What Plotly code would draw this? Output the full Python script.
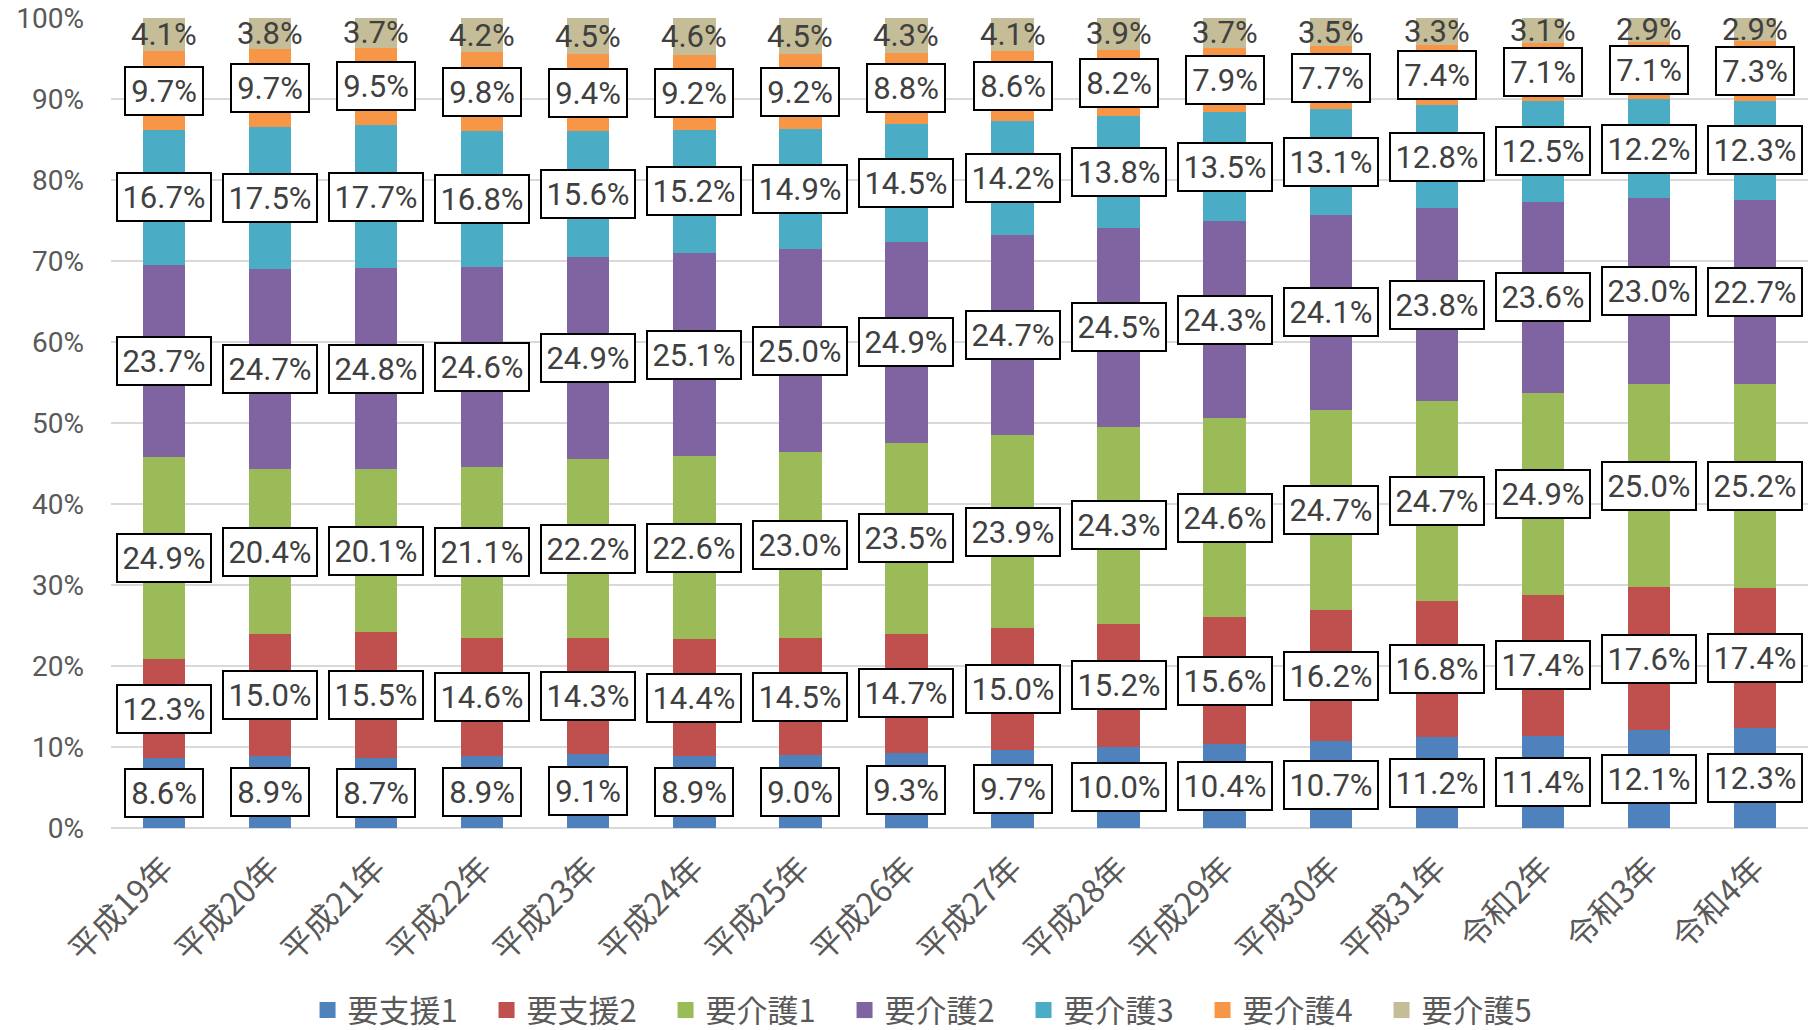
import plotly.graph_objects as go

# Fiscal years (category axis)
years = ["平成19年", "平成20年", "平成21年", "平成22年", "平成23年", "平成24年",
         "平成25年", "平成26年", "平成27年", "平成28年", "平成29年", "平成30年",
         "平成31年", "令和2年", "令和3年", "令和4年"]

# Share of each care level (%)
shien1 = [8.6, 8.9, 8.7, 8.9, 9.1, 8.9, 9.0, 9.3, 9.7, 10.0, 10.4, 10.7, 11.2, 11.4, 12.1, 12.3]
shien2 = [12.3, 15.0, 15.5, 14.6, 14.3, 14.4, 14.5, 14.7, 15.0, 15.2, 15.6, 16.2, 16.8, 17.4, 17.6, 17.4]
kaigo1 = [24.9, 20.4, 20.1, 21.1, 22.2, 22.6, 23.0, 23.5, 23.9, 24.3, 24.6, 24.7, 24.7, 24.9, 25.0, 25.2]
kaigo2 = [23.7, 24.7, 24.8, 24.6, 24.9, 25.1, 25.0, 24.9, 24.7, 24.5, 24.3, 24.1, 23.8, 23.6, 23.0, 22.7]
kaigo3 = [16.7, 17.5, 17.7, 16.8, 15.6, 15.2, 14.9, 14.5, 14.2, 13.8, 13.5, 13.1, 12.8, 12.5, 12.2, 12.3]
kaigo4 = [9.7, 9.7, 9.5, 9.8, 9.4, 9.2, 9.2, 8.8, 8.6, 8.2, 7.9, 7.7, 7.4, 7.1, 7.1, 7.3]
kaigo5 = [4.1, 3.8, 3.7, 4.2, 4.5, 4.6, 4.5, 4.3, 4.1, 3.9, 3.7, 3.5, 3.3, 3.1, 2.9, 2.9]

series_names = ["要支援1", "要支援2", "要介護1", "要介護2", "要介護3", "要介護4", "要介護5"]
series_values = [shien1, shien2, kaigo1, kaigo2, kaigo3, kaigo4, kaigo5]
colors = ["#4F81BD", "#C0504D", "#9BBB59", "#8064A2", "#4BACC6", "#F79646", "#C4BD97"]

y_ticks = [0, 10, 20, 30, 40, 50, 60, 70, 80, 90, 100]

LABEL_FONT = "Roboto, Arial, sans-serif"
CJK_FONT = "Noto Sans CJK JP, sans-serif"
TEXT_GRAY = "#404040"
AXIS_GRAY = "#595959"

fig = go.Figure()
for name, vals, col in zip(series_names, series_values, colors):
    fig.add_trace(go.Bar(
        x=years, y=vals, name=name, legendgroup=name, showlegend=False,
        marker=dict(color=col, line=dict(width=0)),
        hoverinfo="x+y+name",
    ))

# Legend entries drawn as larger square swatches
for name, col in zip(series_names, colors):
    fig.add_trace(go.Scatter(
        x=[None], y=[None], mode="markers", name=name, legendgroup=name,
        marker=dict(symbol="square", size=18, color=col),
        showlegend=True, hoverinfo="skip",
    ))

# Value labels centred on each stacked segment (100% normalised stack)
annotations = []
for i, yr in enumerate(years):
    total = sum(v[i] for v in series_values)
    base = 0.0
    for s, vals in enumerate(series_values):
        v = vals[i]
        share = v / total * 100
        center = base + share / 2
        base += share
        txt = f"{v:.1f}%"
        if s == len(series_values) - 1:
            annotations.append(dict(
                x=yr, y=center, xref="x", yref="y", text=txt, showarrow=False,
                font=dict(family=LABEL_FONT, size=31, color=TEXT_GRAY),
            ))
        else:
            annotations.append(dict(
                x=yr, y=center, xref="x", yref="y", text=txt, showarrow=False,
                font=dict(family=LABEL_FONT, size=31, color=TEXT_GRAY),
                bgcolor="white", bordercolor="black", borderwidth=2, borderpad=3,
                width=16 * len(txt) + 6, height=40,
            ))

fig.update_layout(
    barmode="stack",
    barnorm="percent",
    bargap=0.6,
    width=1815, height=1030,
    margin=dict(l=111, r=7, t=18, b=202, autoexpand=False),
    plot_bgcolor="white",
    paper_bgcolor="white",
    showlegend=True,
    legend=dict(
        orientation="h", x=0.485, xanchor="center",
        yref="container", y=0.019, yanchor="middle",
        font=dict(family=CJK_FONT, size=31, color=AXIS_GRAY),
        entrywidth=134, entrywidthmode="pixels",
        traceorder="normal",
    ),
    xaxis=dict(
        tickangle=-45,
        tickfont=dict(family=CJK_FONT, size=32, color=AXIS_GRAY),
        showgrid=False, showline=False, ticks="",
        automargin=False, ticklabelstandoff=14,
    ),
    yaxis=dict(
        range=[0, 100],
        tickvals=y_ticks,
        ticktext=[f"{t}%" for t in y_ticks],
        tickfont=dict(family=LABEL_FONT, size=28, color=AXIS_GRAY),
        showgrid=True, gridcolor="#D9D9D9", gridwidth=1.5,
        zeroline=True, zerolinecolor="#D9D9D9", zerolinewidth=1.5,
        showline=False, ticks="", ticklabelstandoff=26,
        automargin=False,
    ),
    annotations=annotations,
)

fig.write_html("out.html")
